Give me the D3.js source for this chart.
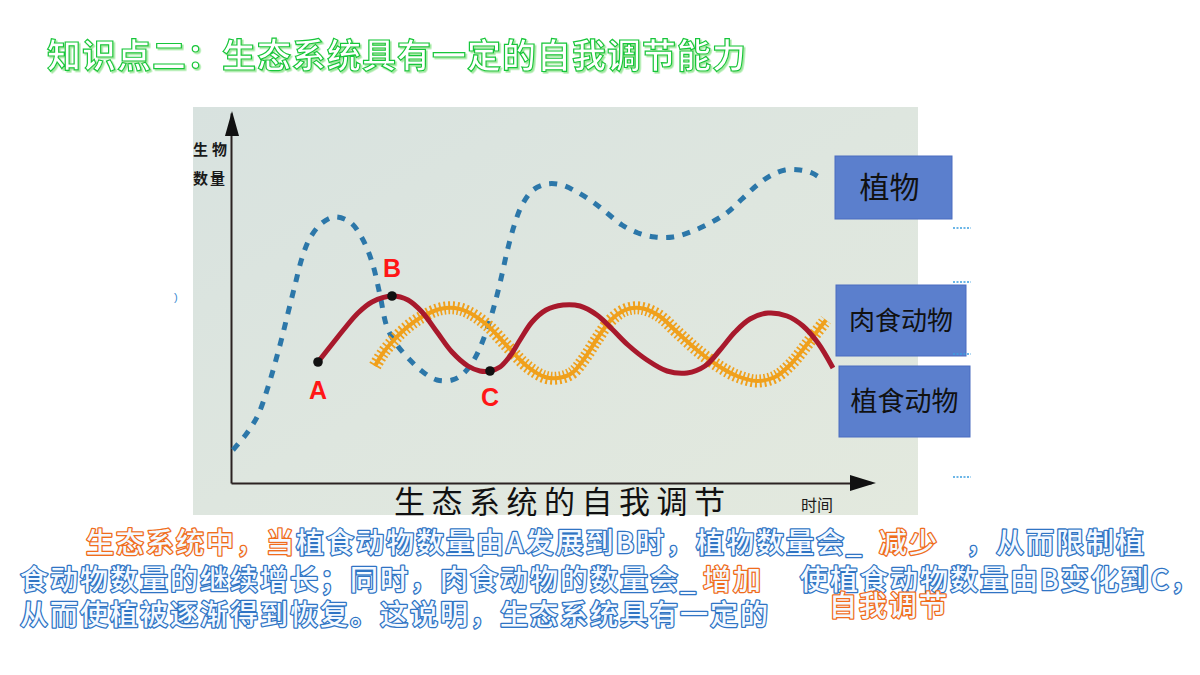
<!DOCTYPE html>
<html><head><meta charset="utf-8">
<script src="https://cdn.jsdelivr.net/npm/d3@7"></script>
<style>html,body{margin:0;padding:0;background:#fff;} svg{display:block;}</style>
</head><body>
<svg id="c" width="1200" height="675"></svg>
<script>
// ---- data (time units, population units) ----
const plantCurve = [[0.2,3.3],[1.6,5.0],[2.7,6.8],[3.7,9.6],[4.9,13.8],[5.7,17.0],[6.4,19.8],[7.1,22.5],[7.9,24.5],[9.1,26.0],[10.4,26.6],[11.9,26.1],[13.1,24.5],[14.1,22.1],[14.9,18.8],[15.6,15.6],[16.6,13.8],[17.9,12.3],[19.2,11.1],[20.6,10.3],[22.1,10.3],[23.2,10.9],[24.4,12.5],[25.4,14.8],[26.2,17.3],[26.9,20.0],[27.6,23.1],[28.3,25.7],[29.1,27.8],[30.2,29.3],[31.6,29.9],[33.1,29.8],[34.6,29.1],[36.2,28.1],[37.6,27.0],[39.1,25.8],[40.7,25.0],[42.4,24.6],[44.2,24.6],[46.2,25.2],[48.1,26.1],[49.7,27.1],[51.1,28.4],[52.5,29.7],[53.9,30.7],[55.4,31.3],[56.9,31.3],[58.1,31.0],[59.1,30.4]];
const herbivoreCurve = [[8.7,12.1],[10.2,14.0],[11.4,15.5],[12.7,17.0],[14.1,18.1],[16.1,18.7],[17.7,18.3],[19.1,17.1],[20.6,15.1],[22.1,13.1],[23.7,11.7],[24.9,11.2],[25.9,11.2],[26.9,11.6],[27.9,12.7],[28.9,14.3],[30.1,16.1],[31.5,17.3],[33.2,17.8],[34.9,17.7],[36.6,16.8],[38.1,15.4],[39.7,13.8],[41.6,12.3],[43.6,11.2],[45.6,11.0],[47.4,11.7],[48.9,13.3],[50.4,15.1],[51.9,16.4],[53.7,17.0],[55.6,16.7],[57.2,15.7],[58.7,14.0],[60.2,11.5]];
const carnivoreCurve = [[14.4,11.7],[15.2,13.0],[16.2,14.2],[17.4,15.4],[18.9,16.5],[20.9,17.4],[22.4,17.5],[23.7,17.1],[25.6,15.8],[27.7,13.6],[29.7,11.6],[31.4,10.6],[32.7,10.5],[34.1,11.0],[35.3,12.4],[36.6,14.4],[37.9,16.2],[39.4,17.3],[40.9,17.5],[42.7,16.8],[44.6,15.1],[46.6,13.3],[48.6,11.8],[50.6,10.7],[52.6,10.2],[54.4,10.6],[56.0,11.9],[57.7,14.0],[59.5,16.3]];
const keyNames = ["A","B","C"];
const keyPoints = [[8.7,12.1],[16.1,18.7],[25.9,11.2]];
const legendLabels = ["植物","肉食动物","植食动物"];
const yAxisLabel = ["生物","数量"];
const xAxisLabel = "时间";
const titleText = "知识点二：生态系统具有一定的自我调节能力";
const captionText = "生态系统的自我调节";

const svg = d3.select("#c");
const x = d3.scaleLinear().domain([0,64]).range([231,871]);
const y = d3.scaleLinear().domain([0,37]).range([483,113]);
const CJK = "'Noto Sans CJK SC','Noto Sans CJK JP',sans-serif";

// defs: background gradient, title shadow
const defs = svg.append("defs");
const gr = defs.append("linearGradient").attr("id","bg").attr("x1",0).attr("y1",0).attr("x2",1).attr("y2",1);
gr.append("stop").attr("offset","0%").attr("stop-color","#d8e2df");
gr.append("stop").attr("offset","50%").attr("stop-color","#dee6df");
gr.append("stop").attr("offset","100%").attr("stop-color","#e3e9de");
const f = defs.append("filter").attr("id","tsh").attr("x","-5%").attr("y","-20%").attr("width","110%").attr("height","140%");
f.append("feDropShadow").attr("dx",1.6).attr("dy",1.6).attr("stdDeviation",0.3).attr("flood-color","#9fe89f").attr("flood-opacity",1);

svg.append("rect").attr("x",193).attr("y",107).attr("width",725).attr("height",408).attr("fill","url(#bg)");

// title
svg.append("text").attr("x",47).attr("y",68).attr("letter-spacing","1px").text(titleText)
  .attr("font-family",CJK).attr("font-size",34).attr("font-weight",700)
  .attr("fill","#ffffff").attr("stroke","#18c63a").attr("stroke-width",1.2).attr("filter","url(#tsh)");

// axes
const gy = svg.append("g").attr("transform",`translate(${x(0)},0)`).call(d3.axisLeft(y).tickValues([]).tickSizeOuter(0));
gy.select(".domain").attr("stroke","#2b2222").attr("stroke-width",2);
const gx = svg.append("g").attr("transform",`translate(0,${y(0)})`).call(d3.axisBottom(x).tickValues([]).tickSizeOuter(0));
gx.select(".domain").attr("stroke","#2b2222").attr("stroke-width",2);
const [y0,y1] = y.range(), [x0,x1] = x.range();
svg.append("path").attr("d",`M${x0+1},${y1-2}L${x0-6},${y1+23}L${x0+8},${y1+23}Z`).attr("fill","#111");
svg.append("path").attr("d",`M${x1+5},${y0}L${x1-21},${y0-8}L${x1-21},${y0+8}Z`).attr("fill","#111");

// axis labels
svg.append("g").attr("font-family",CJK).attr("font-size",15).attr("font-weight",700).attr("fill","#1a1a1a")
  .selectAll("text").data(yAxisLabel).join("text")
  .attr("x",193).attr("y",(d,i)=>155+i*29).attr("letter-spacing",(d,i)=>i===0?"4px":"2px").text(d=>d);
svg.append("text").attr("x",801).attr("y",511).attr("font-family",CJK).attr("font-size",16).attr("fill","#1a1a1a").text(xAxisLabel);

// curves
const line = d3.line().x(d=>x(d[0])).y(d=>y(d[1])).curve(d3.curveCatmullRom.alpha(0.5));
svg.append("path").attr("d",line(plantCurve)).attr("fill","none").attr("stroke","#2c77a9")
  .attr("stroke-width",5).attr("stroke-dasharray","8,8.5");
svg.append("path").attr("d",line(carnivoreCurve)).attr("fill","none").attr("stroke","#f0a01c")
  .attr("stroke-width",13).attr("stroke-dasharray","1.8,2.6");
svg.append("path").attr("d",line(carnivoreCurve)).attr("fill","none").attr("stroke","#f0a01c").attr("stroke-width",4);
svg.append("path").attr("d",line(herbivoreCurve)).attr("fill","none").attr("stroke","#a8192c").attr("stroke-width",5);

// key points
svg.selectAll("circle.k").data(keyPoints).join("circle").attr("class","k")
  .attr("cx",d=>x(d[0])).attr("cy",d=>y(d[1])).attr("r",4.8).attr("fill","#111");
const labelOff = [37, -19, 35];
svg.selectAll("text.k").data(keyPoints).join("text").attr("class","k")
  .attr("x",d=>x(d[0])).attr("y",(d,i)=>y(d[1])+labelOff[i]).attr("text-anchor","middle")
  .attr("font-family","'Liberation Sans Narrow','Liberation Sans',sans-serif").attr("font-weight",700)
  .attr("font-size",25).attr("fill","#ff1616").text((d,i)=>keyNames[i]);

// caption
svg.append("text").attr("x",394).attr("y",513).attr("font-family",CJK).attr("font-size",31)
  .attr("letter-spacing","6.5px").attr("fill","#111").text(captionText);

// legend boxes
const boxes = [{x:835,y:156,w:117,h:63,fs:30},{x:836,y:285,w:130,h:71,fs:26},{x:839,y:366,w:131,h:71,fs:27}];
const lg = svg.append("g").selectAll("g").data(legendLabels).join("g");
lg.append("rect").attr("x",(d,i)=>boxes[i].x).attr("y",(d,i)=>boxes[i].y).attr("width",(d,i)=>boxes[i].w)
  .attr("height",(d,i)=>boxes[i].h).attr("fill","#5b7fcd").attr("stroke","#4a6cc0").attr("stroke-width",1);
lg.append("text").attr("x",(d,i)=>boxes[i].x+boxes[i].w/2+ (i===0?-4:0)).attr("y",(d,i)=>boxes[i].y+boxes[i].h/2)
  .attr("dy","0.36em").attr("text-anchor","middle").attr("font-family",CJK).attr("font-size",(d,i)=>boxes[i].fs)
  .attr("fill","#111").text(d=>d);

// small dotted marks on right
svg.append("g").selectAll("line").data([228,282,354,477]).join("line")
  .attr("x1",953).attr("x2",971).attr("y1",d=>d).attr("y2",d=>d)
  .attr("stroke","#3b9ee0").attr("stroke-width",1.5).attr("stroke-dasharray","2,1.5");
svg.append("text").attr("x",174).attr("y",301).attr("font-size",11).attr("fill","#3a8ad0").attr("font-family","sans-serif").text(")");

// body text (outlined, hollow)
const pal = {b:"#2f74c4", o:"#f06c1c"};
const bodyLines = [
 {x:86, y:553, segs:[["生态系统中，当","o"],["植食动物数量由A发展到B时，植物数量会_","b"]]},
 {x:879, y:553, segs:[["减少","o"]]},
 {x:966, y:553, segs:[["，从而限制植","b"]]},
 {x:20, y:590, segs:[["食动物数量的继续增长；同时，肉食动物的数量会_","b"]]},
 {x:703, y:590, segs:[["增加","o"]]},
 {x:800, y:590, segs:[["使植食动物数量由B变化到C，","b"]]},
 {x:20, y:625, segs:[["从而使植被逐渐得到恢复。这说明，生态系统具有一定的","b"]]},
 {x:829, y:616, segs:[["自我调节","o"]]}
];
const bg = svg.append("g").attr("font-family",CJK).attr("font-size",28).attr("font-weight",500);
bodyLines.forEach(l=>{
  const t = bg.append("text").attr("x",l.x).attr("y",l.y).attr("letter-spacing","2px")
    .style("paint-order","stroke").attr("stroke-linejoin","round");
  l.segs.forEach(s=>{
    t.append("tspan").text(s[0]).attr("fill","#f4f9ff").attr("stroke",pal[s[1]]).attr("stroke-width",2.6);
  });
});
</script>
</body></html>
